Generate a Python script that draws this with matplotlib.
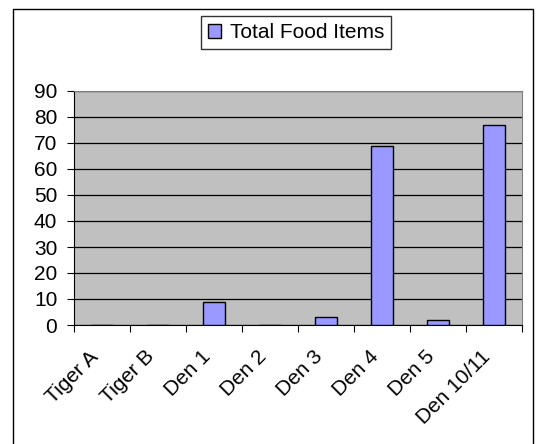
import matplotlib
matplotlib.use("Agg")
import matplotlib.pyplot as plt
from matplotlib.patches import Rectangle
from matplotlib.transforms import ScaledTranslation
import numpy as np

categories = ["Tiger A", "Tiger B", "Den 1", "Den 2", "Den 3", "Den 4", "Den 5", "Den 10/11"]
values = [0, 0, 9, 0, 3, 69, 2, 77]
yticks = [0, 10, 20, 30, 40, 50, 60, 70, 80, 90]
series_name = "Total Food Items"

plt.rcParams['font.family'] = ['Liberation Sans', 'DejaVu Sans']
FS = 15

fig = plt.figure(figsize=(5.4, 4.44), dpi=100)
fig.patches.append(Rectangle((13/540, -0.1), (533-13)/540, 1.1 - 9/444, transform=fig.transFigure,
                             fill=False, edgecolor='black', linewidth=1.0))
ax = fig.add_axes([74/540, (444-325)/444, (522-74)/540, (325-91)/444])
ax.set_facecolor('#C0C0C0')
x = np.arange(len(categories))
ax.bar(x, values, width=0.41, color='#9999FF', edgecolor='black', linewidth=1.0,
       label=series_name, zorder=3)
ax.set_xlim(-0.5, len(categories) - 0.5)
ax.set_ylim(0, 90)
ax.set_yticks(yticks)
ax.set_yticklabels([str(v) for v in yticks], fontsize=FS)
ax.yaxis.grid(True, color='black', linewidth=0.9, zorder=1)
ax.set_axisbelow(True)
ax.set_xticks(np.arange(len(categories) + 1) - 0.5)
ax.set_xticklabels([])
offset = ScaledTranslation(-13/100, -22/100, fig.dpi_scale_trans)
for xi, name in zip(x, categories):
    ax.text(xi, 0, name, transform=ax.get_xaxis_transform() + offset,
            rotation=45, ha='right', va='top', rotation_mode='anchor', fontsize=FS)
ax.tick_params(axis='x', which='major', length=5, direction='out', color='black')
ax.tick_params(axis='y', length=5, direction='out', pad=7)
for s in ['left', 'bottom']:
    ax.spines[s].set_color('black')
for s in ['top', 'right']:
    ax.spines[s].set_color('#808080')

leg = fig.legend(loc='center', bbox_to_anchor=(296/540, 1 - 32.5/444), fontsize=FS,
                 frameon=True, fancybox=False, edgecolor='black', handlelength=0.65,
                 handleheight=0.65, handletextpad=0.4, borderpad=0.35)
leg.get_frame().set_linewidth(1.0)

fig.savefig('out.png', dpi=100)
